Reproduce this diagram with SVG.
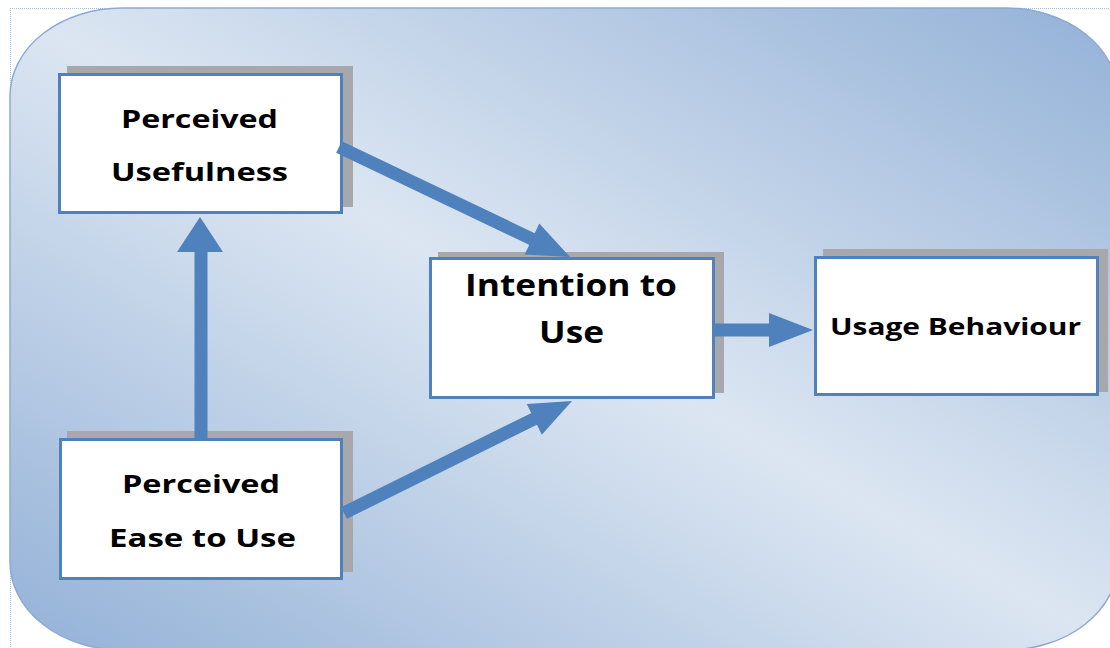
<svg xmlns="http://www.w3.org/2000/svg" width="1110" height="648" viewBox="0 0 1110 648">
<defs>
<linearGradient id="bg" x1="1" y1="0" x2="0" y2="1">
<stop offset="0" stop-color="#93b1d7"/>
<stop offset="0.5" stop-color="#dce6f2"/>
<stop offset="1" stop-color="#93b1d7"/>
</linearGradient>
</defs>
<style>
.shadow{fill:#a6a8ab}
.box{fill:#ffffff;stroke:#4f81bd;stroke-width:3}
.lbl{font-family:"Open Sans","Liberation Sans",sans-serif;font-weight:700;fill:#000000}
.shaft{stroke:#4f81bd;stroke-width:13;fill:none}
.head{fill:#4f81bd}
.dot{stroke:#9cc2ee;stroke-width:1;stroke-dasharray:1 1;fill:none}
</style>
<rect width="1110" height="648" fill="#ffffff"/>
<line class="dot" x1="10" y1="8.5" x2="1110" y2="8.5"/>
<line class="dot" x1="10.5" y1="8" x2="10.5" y2="648"/>
<rect x="10" y="8" width="1108" height="642" rx="112" ry="88" fill="url(#bg)" stroke="#8eaad4" stroke-width="1.5"/>

<g id="perceived-usefulness">
<rect class="shadow" x="67" y="66" width="286" height="141"/>
<rect class="box" x="59.5" y="74.5" width="282" height="138"/>
<text class="lbl" x="121" y="128" font-size="25" textLength="157" lengthAdjust="spacingAndGlyphs">Perceived</text>
<text class="lbl" x="111" y="181" font-size="25" textLength="177" lengthAdjust="spacingAndGlyphs">Usefulness</text>
</g>

<g id="perceived-ease">
<rect class="shadow" x="67" y="431" width="286" height="141"/>
<rect class="box" x="60.5" y="439.5" width="281" height="139"/>
<text class="lbl" x="122" y="493" font-size="25" textLength="158" lengthAdjust="spacingAndGlyphs">Perceived</text>
<text class="lbl" x="109" y="547" font-size="25" textLength="187" lengthAdjust="spacingAndGlyphs">Ease to Use</text>
</g>

<g id="intention">
<rect class="shadow" x="438" y="252" width="286" height="141"/>
<rect class="box" x="430.5" y="258.5" width="283" height="139"/>
<text class="lbl" x="465" y="296" font-size="30" textLength="212" lengthAdjust="spacingAndGlyphs">Intention to</text>
<text class="lbl" x="539" y="343" font-size="30" textLength="65" lengthAdjust="spacingAndGlyphs">Use</text>
</g>

<g id="usage">
<rect class="shadow" x="823" y="249" width="285" height="143"/>
<rect class="box" x="815.5" y="257.5" width="282" height="137"/>
<text class="lbl" x="830" y="335" font-size="24" textLength="251" lengthAdjust="spacingAndGlyphs">Usage Behaviour</text>
</g>

<g id="connectors">
<line class="shaft" x1="201" y1="438" x2="201" y2="248"/>
<polygon class="head" points="200,217 223,252 177,252"/>
<line class="shaft" x1="339" y1="147" x2="534" y2="240"/>
<polygon class="head" points="570,257 524.7,254.4 539.3,223.6"/>
<line class="shaft" x1="344" y1="513" x2="536" y2="418"/>
<polygon class="head" points="572,401 526.8,404.1 541.8,434.7"/>
<line class="shaft" x1="715" y1="330" x2="772" y2="330"/>
<polygon class="head" points="813,330 769,313 769,347"/>
</g>
</svg>
